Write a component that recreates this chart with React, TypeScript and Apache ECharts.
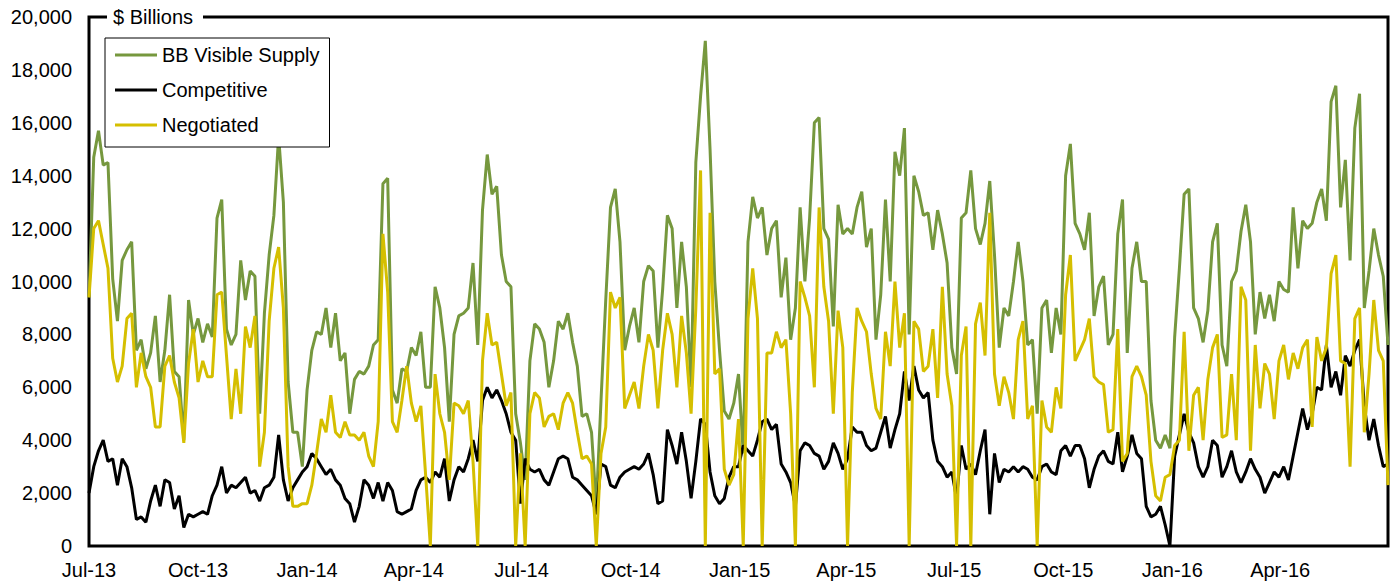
import React, { useEffect, useRef } from 'react';
import * as echarts from 'echarts';

// Axis domain
const startDate = '2013-07-01';
const endDate = '2016-07-01';
const sampleStepDays = 4;

// x-axis tick labels (quarter starts)
const quarterStarts = [
  '2013-07-01', '2013-10-01', '2014-01-01', '2014-04-01', '2014-07-01', '2014-10-01',
  '2015-01-01', '2015-04-01', '2015-07-01', '2015-10-01', '2016-01-01', '2016-04-01',
];
const quarterLabels = [
  'Jul-13', 'Oct-13', 'Jan-14', 'Apr-14', 'Jul-14', 'Oct-14',
  'Jan-15', 'Apr-15', 'Jul-15', 'Oct-15', 'Jan-16', 'Apr-16',
];

// y-axis
const yMin = 0;
const yMax = 20000;
const yStep = 2000;

const seriesNames = ['BB Visible Supply', 'Competitive', 'Negotiated'];

// $ Billions, one value every 4 days starting Jul 1 2013
const bbVisibleSupply = [
  9400, 14700, 15700, 14400, 14500, 10100, 8500, 10800, 11200, 11500,
  7400, 7800, 6700, 7300, 8700, 6200, 7400, 9500, 6600, 6400,
  4000, 9300, 8000, 8600, 7700, 8400, 7900, 12400, 13100, 8200,
  7600, 8000, 10800, 9300, 10400, 10200, 5000, 8800, 11000, 12500,
  15500, 13000, 6200, 4300, 4300, 3000, 5900, 7400, 8100, 8000,
  9000, 7500, 8800, 7000, 7300, 5000, 6300, 6600, 6500, 6800,
  7600, 7800, 13700, 13900, 5900, 5400, 6700, 6600, 7500, 7200,
  8100, 6000, 6000, 9800, 9000, 7500, 4700, 8000, 8700, 8800,
  9000, 10700, 7600, 12700, 14800, 13300, 13600, 11000, 10000, 9800,
  5000, 3900, 2500, 7000, 8400, 8200, 7700, 6000, 7000, 8500,
  8200, 8800, 7700, 6800, 4900, 5000, 4300, 1500, 5500, 9300,
  12800, 13500, 11500, 7400, 8300, 9000, 7700, 10000, 10600, 10400,
  7500, 9700, 12500, 12000, 9000, 11500, 9800, 6000, 14500, 17000,
  19100, 15000, 10000, 7400, 5100, 4800, 5400, 6500, 3500, 11500,
  13200, 12400, 12800, 11000, 12000, 12300, 9400, 10900, 7800, 9000,
  12800, 10000, 12400, 16000, 16200, 12000, 11600, 8300, 12900, 11800,
  12000, 11800, 12800, 13400, 11300, 12000, 7800, 9500, 13100, 10000,
  14900, 14000, 15800, 8000, 14000, 13400, 12500, 12600, 11200, 12700,
  11800, 10700, 7500, 6500, 12400, 12600, 14200, 12000, 11400, 12200,
  13800, 11000, 7500, 9000, 8700, 10000, 11500, 10000, 7600, 7800,
  5000, 9000, 9300, 7300, 9000, 8000, 14000, 15200, 12200, 11800,
  11200, 12600, 8700, 9800, 10200, 7600, 8000, 11800, 13100, 7300,
  10500, 11500, 10000, 10000, 5500, 4000, 3700, 4200, 3700, 7900,
  10500, 13300, 13500, 9000, 8600, 7700, 8900, 11500, 12200, 7600,
  6800, 10000, 10400, 11900, 12900, 11500, 8000, 9600, 8600, 9500,
  8500, 10000, 9700, 9600, 12800, 10500, 12300, 12000, 12200, 13000,
  13500, 12300, 16800, 17400, 12800, 14600, 10800, 15800, 17100, 9000,
  10400, 12000, 11000, 10200, 7600,
];

const competitive = [
  2000, 3000, 3600, 4000, 3200, 3300, 2300, 3300, 3000, 2200,
  1000, 1100, 900, 1700, 2300, 1500, 2500, 2400, 1400, 1900,
  700, 1200, 1100, 1200, 1300, 1200, 1900, 2300, 3000, 2000,
  2300, 2200, 2400, 2600, 2000, 2100, 1700, 2200, 2300, 2600,
  4200, 2500, 1700, 2200, 2500, 2800, 3000, 3500, 3300, 3000,
  2700, 2900, 2500, 2300, 1800, 1600, 900, 1500, 2500, 2300,
  1800, 2400, 1700, 2400, 2100, 1300, 1200, 1300, 1400, 2100,
  2500, 2600, 2400, 2800, 2600, 3300, 1700, 2500, 3000, 2800,
  3300, 4000, 3200, 5500, 6000, 5600, 5900, 5500, 5000, 4300,
  4000, 1600, 3300, 2900, 2800, 2900, 2500, 2300, 2800, 3300,
  3400, 3300, 2600, 2500, 2300, 2100, 1900, 1200, 3100, 3000,
  2300, 2200, 2600, 2800, 2900, 3000, 2900, 3100, 3500, 2700,
  1600, 1700, 4400, 3800, 3100, 4300, 3200, 1800, 3200, 4800,
  4600, 2800, 1900, 1600, 1800, 2600, 3000, 3000, 3800, 3600,
  3400, 4000, 4700, 4800, 4400, 4600, 3100, 2800, 2400, 1500,
  3600, 3900, 3800, 3500, 3400, 2900, 3200, 3900, 3500, 2900,
  3300, 4500, 4300, 4300, 3800, 3600, 3700, 4300, 4900, 3700,
  4400, 5000, 6600, 5500, 6800, 5900, 5600, 5800, 4000, 3200,
  3000, 2600, 2800, 1800, 3800, 2900, 3100, 2700, 3600, 4400,
  1200, 3500, 2400, 2900, 2800, 3000, 2800, 3000, 2900, 2600,
  2500, 3000, 3100, 2800, 2700, 3600, 3800, 3400, 3800, 3800,
  3300, 2200, 2900, 3400, 3600, 3200, 3100, 4300, 2800, 3400,
  4200, 3500, 3300, 1500, 1100, 1200, 1500, 800, 0, 3400,
  4200, 5000, 4300, 3900, 3000, 2600, 3000, 4000, 3800, 2600,
  3000, 3600, 2800, 2400, 2800, 3300, 2900, 2600, 2000, 2400,
  2800, 2600, 3000, 2500, 3400, 4300, 5200, 4400, 5000, 6000,
  5900, 7600, 6000, 6600, 5700, 7200, 6800, 7400, 7800, 5300,
  4000, 4800, 3800, 3000, 3100,
];

const negotiated = [
  9400, 12000, 12300, 11400, 10500, 7100, 6200, 6800, 8600, 8800,
  6000, 7300, 6400, 6000, 4500, 4500, 6800, 7200, 6200, 5600,
  3900, 6900, 8200, 6200, 7000, 6400, 6400, 9500, 9600, 7200,
  4800, 6700, 5000, 8300, 7500, 8700, 3000, 4300, 8500, 10500,
  11300, 9000, 3000, 1500, 1500, 1600, 1600, 2300, 3500, 4800,
  4300, 5700, 4300, 4100, 4700, 4200, 4200, 4000, 4300, 3400,
  3000, 4700, 11800, 9600, 4700, 4300, 5500, 6800, 5400, 4700,
  5300, 2700, 0, 6500, 5000, 4300, 2500, 5400, 5300, 5000,
  5500, 3200, 0, 7000, 8800, 7600, 7700, 6500, 5300, 5800,
  0, 3500, 0, 5000, 5800, 5600, 4500, 4900, 5000, 4400,
  5400, 5800, 5400, 4300, 3300, 3400, 3100, 0, 3500, 4500,
  9600, 9000, 9400, 5200, 5700, 6200, 5200, 6800, 8000, 7400,
  5200, 7400, 8800, 8000, 6000, 8700, 7300, 5000, 9000, 14200,
  0, 12600, 6500, 6700, 2900, 2300, 2700, 4800, 0, 8600,
  10500, 8600, 0, 7300, 7300, 8100, 7500, 7800, 5000, 0,
  10000, 9400, 8700, 6000, 12800, 9800, 8500, 5000, 8900, 7500,
  0, 5800, 9000, 8500, 8100, 6500, 5200, 4800, 8100, 6800,
  10000, 7500, 8800, 0, 8500, 8200, 6600, 6800, 8200, 5600,
  9800, 6500, 5300, 0, 7200, 8300, 0, 8400, 9200, 7200,
  12600, 6500, 5300, 6400, 5800, 4800, 7800, 8500, 4800, 5300,
  0, 5500, 4500, 4300, 6000, 5200, 9500, 11000, 7000, 7400,
  7800, 8600, 6400, 6200, 6100, 4300, 4400, 8200, 3200, 3500,
  6400, 6800, 6400, 5700, 3200, 1900, 1700, 2600, 2700, 3800,
  4000, 8100, 3600, 5700, 6000, 4000, 6300, 7500, 8000, 4100,
  4200, 6500, 4000, 9800, 9300, 3600, 7600, 5200, 6900, 6500,
  4800, 7000, 7600, 6300, 7300, 6700, 7500, 7800, 4500, 7900,
  7000, 7500, 10300, 11000, 7000, 6900, 3000, 8600, 9000, 4300,
  6500, 9300, 7400, 7000, 2300,
];

const FONT = '"Liberation Sans", Arial, Helvetica, sans-serif';
const DAY_MS = 86400000;
const dayOffset = (d: string) => Math.round((Date.parse(d) - Date.parse(startDate)) / DAY_MS);

export default function App() {
  const ref = useRef<HTMLDivElement>(null);

  useEffect(() => {
    if (!ref.current) return;
    const chart = echarts.init(ref.current, undefined, { renderer: 'svg' });
    const quarterDays = quarterStarts.map(dayOffset);
    const toPairs = (vals: number[]) => vals.map((v, i) => [i * sampleStepDays, v]);

    chart.setOption({
      animation: false,
      backgroundColor: '#ffffff',
      textStyle: { fontFamily: FONT },
      grid: {
        left: 89,
        right: 2,
        top: 17,
        bottom: 39,
        show: true,
        borderColor: '#000000',
        borderWidth: 3,
        backgroundColor: 'transparent',
      },
      legend: {
        show: true,
        orient: 'vertical',
        left: 105,
        top: 38,
        data: seriesNames,
        icon: 'rect',
        itemWidth: 42,
        itemHeight: 3,
        itemGap: 15,
        padding: [7, 10, 12, 10],
        borderColor: '#000000',
        borderWidth: 1,
        backgroundColor: '#ffffff',
        textStyle: { fontFamily: FONT, fontSize: 20, color: '#000000' },
        selectedMode: false,
      },
      xAxis: {
        type: 'value',
        min: 0,
        max: dayOffset(endDate),
        axisLine: { show: false },
        axisTick: { show: false },
        splitLine: { show: false },
        axisLabel: {
          customValues: quarterDays,
          formatter: (v: number) => {
            const k = quarterDays.indexOf(Math.round(v));
            return k >= 0 ? quarterLabels[k] : '';
          },
          fontFamily: FONT,
          fontSize: 20,
          color: '#000000',
          margin: 14,
        },
      },
      yAxis: {
        type: 'value',
        min: yMin,
        max: yMax,
        interval: yStep,
        axisLine: { show: false },
        axisTick: { show: false },
        splitLine: { show: false },
        axisLabel: {
          formatter: (v: number) => v.toLocaleString('en-US'),
          fontFamily: FONT,
          fontSize: 20,
          color: '#000000',
          margin: 17,
        },
      },
      graphic: [
        {
          type: 'rect',
          z: 100,
          shape: { x: 107, y: 5, width: 96, height: 24 },
          style: { fill: '#ffffff' },
        },
        {
          type: 'text',
          z: 101,
          x: 113,
          y: 17,
          style: {
            text: '$ Billions',
            font: `20px ${FONT}`,
            fill: '#000000',
            verticalAlign: 'middle',
            align: 'left',
          },
        },
      ],
      series: [
        {
          name: seriesNames[0],
          type: 'line',
          data: toPairs(bbVisibleSupply),
          showSymbol: false,
          symbol: 'none',
          color: '#76983E',
          lineStyle: { color: '#76983E', width: 3 },
        },
        {
          name: seriesNames[1],
          type: 'line',
          data: toPairs(competitive),
          showSymbol: false,
          symbol: 'none',
          color: '#000000',
          lineStyle: { color: '#000000', width: 3 },
        },
        {
          name: seriesNames[2],
          type: 'line',
          data: toPairs(negotiated),
          showSymbol: false,
          symbol: 'none',
          color: '#D5BF00',
          lineStyle: { color: '#D5BF00', width: 3 },
        },
      ],
    });

    return () => chart.dispose();
  }, []);

  return (
    <div
      ref={ref}
      style={{ position: 'fixed', left: 0, top: 0, width: 1390, height: 585, background: '#fff' }}
    />
  );
}
